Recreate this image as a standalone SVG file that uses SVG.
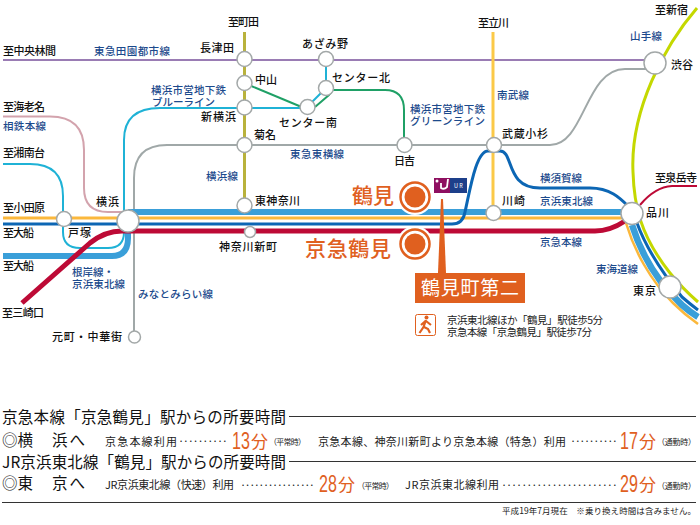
<svg xmlns="http://www.w3.org/2000/svg" width="700" height="525" viewBox="0 0 700 525">
<style>
text{font-family:"Noto Sans CJK JP","Noto Sans",sans-serif;fill:#111}
.s{font-size:11px;font-weight:500}
.l{font-size:10.500px;font-weight:500;fill:#1c4a8c}
.c{fill:none;stroke-linecap:butt;stroke-linejoin:round}
.n{fill:#fff;stroke:#a3a8a8;stroke-width:1.500}
.o{fill:#e0601f}
.h{font-size:15.500px}
.m{font-size:11px;fill:#222}
.t{font-size:8px;fill:#222}
.d{font-size:11px;fill:#222}
.b{font-size:23px;font-family:"Liberation Sans",sans-serif;fill:#e0601f}
.f{font-size:17px;fill:#e0601f}
.r{stroke:#333;stroke-width:1}
.k{font-size:21px;font-weight:500;fill:#e0601f}
</style>
<rect width="700" height="525" fill="#fff"/>
<g id="connectors">
<path class="c" stroke="#b9b23c" stroke-width="3" d="M244.500 32V205"/>
<path class="c" stroke="#9a7cb4" stroke-width="2" d="M3 60H655"/>
<path class="c" stroke="#d3a3ad" stroke-width="2" d="M3 116.500H50Q84 116.500 84 150V188Q84 212 108 212H128"/>
<path class="c" stroke="#1fb2d6" stroke-width="2" d="M3 164H30Q63 164 63 196V232Q63 248 80 248H108Q124 248 124 232V140Q124 108 160 108H307"/>
<path class="c" stroke="#1fb2d6" stroke-width="2" d="M326 59V88L307 107"/>
<path class="c" stroke="#1fa066" stroke-width="2" d="M250 85.500L304 108"/>
<path class="c" stroke="#1fa066" stroke-width="2" d="M315 107L329 95L333 90H385Q404 90 404 110V145"/>
<path class="c" stroke="#a0a8a8" stroke-width="2" d="M134 337V178Q134 145 167 145H550C585 145 585 69 625 69H655"/>
<path class="c" stroke="#fbc947" stroke-width="3" d="M493 32V213"/>
<path class="c" stroke="#3a9fd9" stroke-width="6" d="M128 212H632"/>
<path class="c" stroke="#fbb83c" stroke-width="3" d="M3 218H632"/>
<path class="c" stroke="#0c66b4" stroke-width="3" d="M3 224H128M128 224H452Q463 224 465 212C470 190 476 151 488 151H500C514 151 505 188 540 188H590C610 188 620 198 628 206"/>
<path class="c" stroke="#3a9fd9" stroke-width="6" d="M3 256H112Q128 256 128 238V221"/>
<path class="c" stroke="#bd0a36" stroke-width="5" d="M22 303L90 243Q105 231 122 231H595Q610 231 625 221"/>
<path class="c" stroke="#bd0a36" stroke-width="2" d="M640 205Q655 187 672 186H697"/>
<path class="c" stroke="#c4d800" stroke-width="3" d="M697 8C665 45 630 110 633 172C634 205 640 235 670 273Q682 288 698 302"/>
<path class="c" stroke="#fbb83c" stroke-width="2.500" d="M626 223C634 250 650 280 673 303Q684 314 698 324"/>
<path class="c" stroke="#3a9fd9" stroke-width="6.500" d="M632 225C640 250 655 280 682 305Q690 312 698 317"/>
<path class="c" stroke="#0c66b4" stroke-width="3" d="M637 223C645 245 660 270 682 297Q690 304 698 310"/>
</g>
<g id="n-nagatsuta"><circle class="n" cx="244.500" cy="59" r="7.500"/><text class="s" x="200" y="52" textLength="34">長津田</text></g>
<g id="n-nakayama"><circle class="n" cx="244.500" cy="83" r="7.500"/><text class="s" x="255" y="84" textLength="22">中山</text></g>
<g id="n-shinyokohama"><circle class="n" cx="244.500" cy="107.500" r="7.500"/><text class="s" x="201" y="121" textLength="35">新横浜</text></g>
<g id="n-kikuna"><circle class="n" cx="244.500" cy="145" r="7.500"/><text class="s" x="254" y="139" textLength="22">菊名</text></g>
<g id="n-higashikanagawa"><circle class="n" cx="244.500" cy="205.500" r="7.500"/><text class="s" x="255" y="205" textLength="45">東神奈川</text></g>
<g id="n-azamino"><circle class="n" cx="326" cy="59" r="7.500"/><text class="s" x="302" y="48" textLength="46">あざみ野</text></g>
<g id="n-centerkita"><circle class="n" cx="326" cy="88" r="7.500"/><text class="s" x="332" y="82" textLength="58">センター北</text></g>
<g id="n-centerminami"><circle class="n" cx="307.500" cy="107" r="7.500"/><text class="s" x="279" y="127" textLength="58">センター南</text></g>
<g id="n-hiyoshi"><circle class="n" cx="404.500" cy="145" r="7.500"/><text class="s" x="394" y="165" textLength="21">日吉</text></g>
<g id="n-musashikosugi"><circle class="n" cx="494" cy="145" r="7.500"/><text class="s" x="502" y="138" textLength="46">武蔵小杉</text></g>
<g id="n-shibuya"><circle class="n" cx="655" cy="63" r="11"/><text class="s" x="671" y="69" textLength="22">渋谷</text></g>
<g id="n-shinagawa"><circle class="n" cx="632" cy="213.500" r="11"/><text class="s" x="646" y="217" textLength="23">品川</text></g>
<g id="n-tokyo"><circle class="n" cx="670" cy="287" r="11"/><text class="s" x="633" y="295" textLength="23">東京</text></g>
<g id="n-kawasaki"><circle class="n" cx="493.500" cy="213" r="7.500"/><text class="s" x="502" y="205" textLength="23">川崎</text></g>
<g id="n-yokohama"><circle class="n" cx="128" cy="221" r="11"/><text class="s" x="96" y="206" textLength="23">横浜</text></g>
<g id="n-totsuka"><circle class="n" cx="64" cy="219" r="7.500"/><text class="s" x="68" y="237" textLength="23">戸塚</text></g>
<g id="n-kanagawashinmachi"><circle class="n" cx="250" cy="232" r="5.500"/><text class="s" x="219" y="251" textLength="58">神奈川新町</text></g>
<g id="n-motomachi"><circle class="n" cx="134.500" cy="337" r="6"/><text class="s" x="52" y="341" textLength="70">元町・中華街</text></g>
<g id="n-tsurumi"><circle cx="415" cy="197" r="18" fill="#fff"/><circle cx="415" cy="197" r="14.500" fill="none" stroke="#e0601f" stroke-width="2.500"/><circle class="o" cx="415" cy="197" r="10.500"/><text class="k" x="352" y="203" textLength="42" style="fill:#e0601f">鶴見</text></g>
<g id="n-keikyutsurumi"><circle cx="415" cy="244" r="18" fill="#fff"/><circle cx="415" cy="244" r="14.500" fill="none" stroke="#e0601f" stroke-width="2.500"/><circle class="o" cx="415" cy="244" r="10.500"/><text class="k" x="305" y="256" textLength="86" style="fill:#e0601f">京急鶴見</text></g>
<g id="labels">
<text class="s" x="228" y="26" textLength="31">至町田</text>
<text class="s" x="3" y="55" textLength="53">至中央林間</text>
<text class="l" x="94" y="55" textLength="76">東急田園都市線</text>
<text class="l" x="151" y="93.500" textLength="75">横浜市営地下鉄</text>
<text class="l" x="152" y="105.500" textLength="63">ブルーライン</text>
<text class="s" x="3" y="111" textLength="42">至海老名</text>
<text class="l" x="3" y="130" textLength="43">相鉄本線</text>
<text class="l" x="290" y="158" textLength="54">東急東横線</text>
<text class="s" x="3" y="157" textLength="42">至湘南台</text>
<text class="l" x="206" y="180" textLength="32">横浜線</text>
<text class="l" x="410" y="112.500" textLength="75">横浜市営地下鉄</text>
<text class="l" x="410" y="124.500" textLength="75">グリーンライン</text>
<text class="l" x="497" y="99" textLength="32">南武線</text>
<text class="s" x="478" y="27" textLength="31">至立川</text>
<text class="s" x="655" y="14" textLength="33">至新宿</text>
<text class="l" x="630" y="40" textLength="32">山手線</text>
<text class="l" x="540" y="182" textLength="42">横須賀線</text>
<text class="s" x="655" y="182" textLength="42">至泉岳寺</text>
<text class="l" x="540" y="205" textLength="53">京浜東北線</text>
<text class="l" x="540" y="246" textLength="42">京急本線</text>
<text class="l" x="596" y="273" textLength="42">東海道線</text>
<text class="s" x="3" y="212" textLength="42">至小田原</text>
<text class="s" x="3" y="237" textLength="31">至大船</text>
<text class="s" x="3" y="270" textLength="31">至大船</text>
<text class="l" x="72" y="275.500" textLength="42">根岸線・</text>
<text class="l" x="72" y="288" textLength="53">京浜東北線</text>
<text class="l" x="138" y="298" textLength="75">みなとみらい線</text>
<text class="s" x="2" y="317" textLength="42">至三崎口</text>
</g>
<g id="property">
<path class="o" d="M441 199L438 273H446L443 199Z"/>
<rect class="o" x="415" y="273" width="110" height="30"/>
<text x="421" y="295" font-size="19" style="fill:#fff" textLength="98">鶴見町第二</text>
<rect x="415.500" y="314.500" width="20" height="21" rx="2" fill="#fff" stroke="#e0601f"/>
<circle class="o" cx="426.500" cy="317.500" r="2"/>
<path d="M426 320L423.500 327L419.500 333M424 327L428 329L430 333M425.500 321L421 325M426 321L431 325" stroke="#e0601f" stroke-width="2.200" fill="none"/>
<text x="447" y="324" font-size="10.500" style="fill:#222" textLength="156">京浜東北線ほか「鶴見」駅徒歩5分</text>
<text x="447" y="336" font-size="10.500" style="fill:#222" textLength="145">京急本線「京急鶴見」駅徒歩7分</text>
</g>
<g id="ur-logo">
<rect x="434" y="178" width="16" height="15" fill="#8e0f60"/>
<rect x="450" y="178" width="17" height="15" fill="#1d3f8a"/>
<circle cx="437" cy="181" r="1.500" fill="#fff"/>
<path d="M441 183V188Q444 190 447 187L448 179" stroke="#fff" stroke-width="1.800" fill="none"/>
<text x="454" y="188" font-size="5.500" style="fill:#fff">U R</text>
</g>
<g id="times">
<text class="h" x="2" y="423" textLength="284">京急本線「京急鶴見」駅からの所要時間</text>
<line class="r" x1="289" y1="416.500" x2="696" y2="416.500"/>
<text class="h" x="2" y="446">◎横</text>
<text class="h" x="52" y="446" textLength="33">浜へ</text>
<text class="m" x="105" y="445.500" textLength="72">京急本線利用</text>
<text class="d" x="178" y="445" textLength="50">··········</text>
<text class="b" transform="translate(232 448.500) scale(.7 1)">13</text>
<text class="f" x="251" y="448">分</text>
<text class="t" x="269" y="445" textLength="37">（平常時）</text>
<text class="m" x="318" y="445.500" textLength="248">京急本線、神奈川新町より京急本線（特急）利用</text>
<text class="d" x="570" y="445" textLength="48">··········</text>
<text class="b" transform="translate(620 448.500) scale(.7 1)">17</text>
<text class="f" x="639" y="448">分</text>
<text class="t" x="657" y="445" textLength="39">（通勤時）</text>
<text class="h" x="2" y="468" textLength="284">JR京浜東北線「鶴見」駅からの所要時間</text>
<line class="r" x1="289" y1="461.500" x2="696" y2="461.500"/>
<text class="h" x="2" y="489">◎東</text>
<text class="h" x="52" y="489" textLength="33">京へ</text>
<text class="m" x="105" y="489" textLength="129">JR京浜東北線（快速）利用</text>
<text class="d" x="240" y="489" textLength="75">················</text>
<text class="b" transform="translate(319 491.500) scale(.7 1)">28</text>
<text class="f" x="338" y="491">分</text>
<text class="t" x="357" y="489" textLength="37">（平常時）</text>
<text class="m" x="405" y="489" textLength="94">JR京浜東北線利用</text>
<text class="d" x="501" y="489" textLength="117">·······················</text>
<text class="b" transform="translate(620 491.500) scale(.7 1)">29</text>
<text class="f" x="639" y="491">分</text>
<text class="t" x="657" y="489" textLength="39">（通勤時）</text>
<line class="r" x1="2" y1="502.500" x2="696" y2="502.500"/>
<text x="502" y="514" font-size="8.500" style="fill:#222" textLength="194">平成19年7月現在　※乗り換え時間は含みません。</text>
</g>
</svg>
